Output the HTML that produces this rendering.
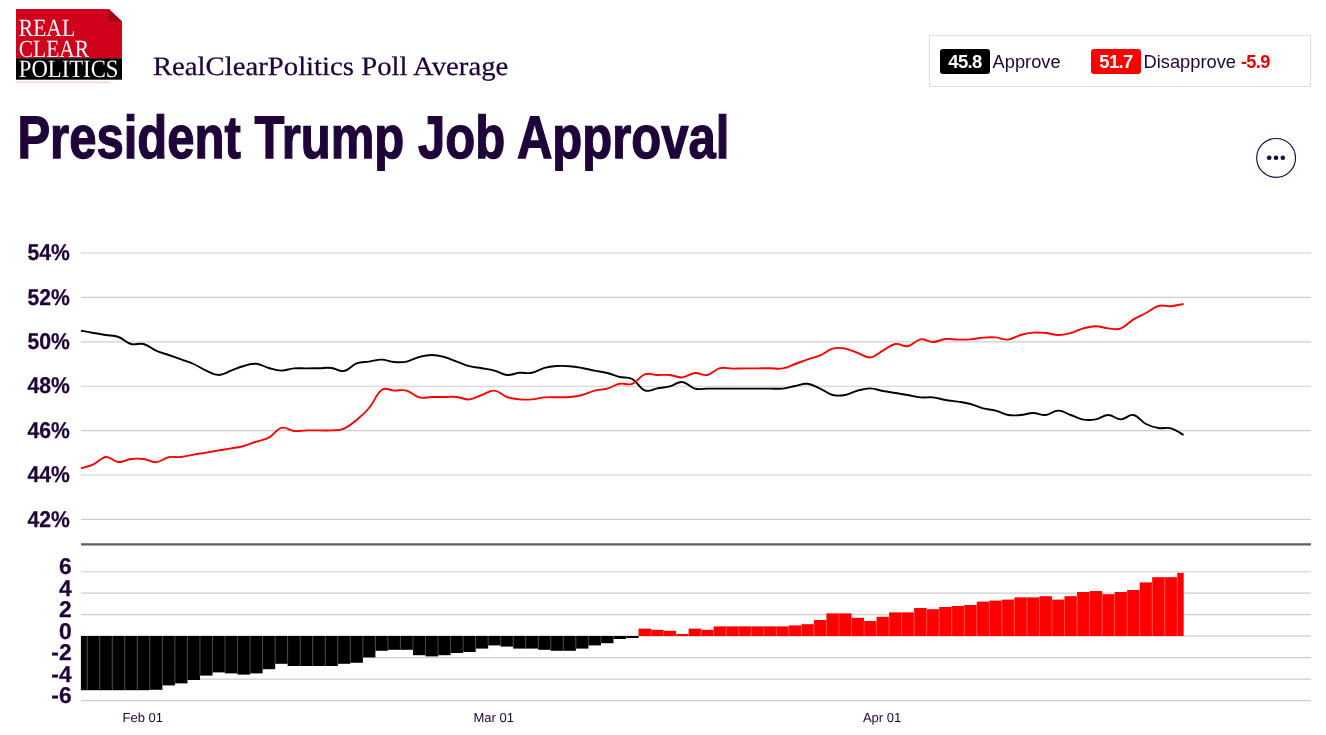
<!DOCTYPE html>
<html lang="en"><head><meta charset="utf-8"><title>President Trump Job Approval</title>
<style>
html,body{margin:0;padding:0;background:#fff;}
body{width:1326px;height:735px;position:relative;overflow:hidden;font-family:"Liberation Sans",Arial,sans-serif;color:#1f0439;}
svg text{font-family:"Liberation Sans",Arial,sans-serif;text-rendering:geometricPrecision;}
svg text.serif{font-family:"Liberation Serif","Times New Roman",serif;}
.abs{position:absolute;}
#legend{left:929px;top:35px;width:380px;height:50px;border:1px solid #ddd;}
.tag{position:absolute;top:13px;height:25px;width:50px;border-radius:3px;color:#fff;font-weight:bold;font-size:18.5px;line-height:25px;text-align:center;letter-spacing:-0.6px;}
.lbl{position:absolute;top:13.3px;font-size:18.25px;line-height:25px;color:#1f0439;white-space:nowrap;}
#menu{left:1255.8px;top:137.5px;width:40px;height:40px;border:1.4px solid #1f0439;border-radius:50%;box-sizing:border-box;}
#menu i{position:absolute;top:16.8px;width:4.6px;height:4.6px;border-radius:50%;background:#1f0439;}
</style></head><body>
<svg width="1326" height="735" viewBox="0 0 1326 735" style="position:absolute;left:0;top:0">
<defs><clipPath id="plot"><rect x="80.9" y="230" width="1102.8" height="480"/></clipPath></defs>

<rect x="16" y="9" width="106" height="49.2" fill="#d0021b"/>
<rect x="16" y="58.2" width="106" height="21.5" fill="#000"/>
<polygon points="108.8,9 122,9 122,21.5" fill="#fff"/>
<polygon points="108.8,9 108.8,21.5 122,21.5" fill="#a60014"/>
<line x1="16" x2="109.7" y1="82.3" y2="82.3" stroke="#f5b0b0" stroke-width="0.8"/>
<text class="serif" x="18.8" y="36" font-size="24.7" fill="#fff" textLength="56.3" lengthAdjust="spacingAndGlyphs">REAL</text>
<text class="serif" x="18.8" y="56.5" font-size="24.7" fill="#fff" textLength="70.2" lengthAdjust="spacingAndGlyphs">CLEAR</text>
<text class="serif" x="18.8" y="77.3" font-size="25" fill="#fff" textLength="99.6" lengthAdjust="spacingAndGlyphs">POLITICS</text>
<text class="serif" x="152.9" y="75" font-size="26.5" fill="#1f0439" stroke="#1f0439" stroke-width="0.25" textLength="355.4" lengthAdjust="spacingAndGlyphs">RealClearPolitics Poll Average</text>
<text x="17.4" y="158.4" font-size="60" font-weight="bold" fill="#1f0439" stroke="#1f0439" stroke-width="1.3" textLength="712" lengthAdjust="spacingAndGlyphs">President Trump Job Approval</text>

<line x1="81" x2="1311" y1="253.00" y2="253.00" stroke="#cecece" stroke-width="1.15"/>
<text x="27.5" y="260.20" font-size="22.8" font-weight="bold" fill="#1f0439" stroke="#1f0439" stroke-width="0.25" textLength="42.4" lengthAdjust="spacingAndGlyphs">54%</text>
<line x1="81" x2="1311" y1="297.40" y2="297.40" stroke="#cecece" stroke-width="1.15"/>
<text x="27.5" y="304.60" font-size="22.8" font-weight="bold" fill="#1f0439" stroke="#1f0439" stroke-width="0.25" textLength="42.4" lengthAdjust="spacingAndGlyphs">52%</text>
<line x1="81" x2="1311" y1="341.80" y2="341.80" stroke="#cecece" stroke-width="1.15"/>
<text x="27.5" y="349.00" font-size="22.8" font-weight="bold" fill="#1f0439" stroke="#1f0439" stroke-width="0.25" textLength="42.4" lengthAdjust="spacingAndGlyphs">50%</text>
<line x1="81" x2="1311" y1="386.20" y2="386.20" stroke="#cecece" stroke-width="1.15"/>
<text x="27.5" y="393.40" font-size="22.8" font-weight="bold" fill="#1f0439" stroke="#1f0439" stroke-width="0.25" textLength="42.4" lengthAdjust="spacingAndGlyphs">48%</text>
<line x1="81" x2="1311" y1="430.60" y2="430.60" stroke="#cecece" stroke-width="1.15"/>
<text x="27.5" y="437.80" font-size="22.8" font-weight="bold" fill="#1f0439" stroke="#1f0439" stroke-width="0.25" textLength="42.4" lengthAdjust="spacingAndGlyphs">46%</text>
<line x1="81" x2="1311" y1="475.00" y2="475.00" stroke="#cecece" stroke-width="1.15"/>
<text x="27.5" y="482.20" font-size="22.8" font-weight="bold" fill="#1f0439" stroke="#1f0439" stroke-width="0.25" textLength="42.4" lengthAdjust="spacingAndGlyphs">44%</text>
<line x1="81" x2="1311" y1="519.40" y2="519.40" stroke="#cecece" stroke-width="1.15"/>
<text x="27.5" y="526.60" font-size="22.8" font-weight="bold" fill="#1f0439" stroke="#1f0439" stroke-width="0.25" textLength="42.4" lengthAdjust="spacingAndGlyphs">42%</text>
<line x1="81" x2="1311" y1="571.71" y2="571.71" stroke="#cecece" stroke-width="1.15"/>
<text x="71.6" y="574.21" font-size="22.8" font-weight="bold" fill="#1f0439" stroke="#1f0439" stroke-width="0.25" text-anchor="end">6</text>
<line x1="81" x2="1311" y1="593.19" y2="593.19" stroke="#cecece" stroke-width="1.15"/>
<text x="71.6" y="595.69" font-size="22.8" font-weight="bold" fill="#1f0439" stroke="#1f0439" stroke-width="0.25" text-anchor="end">4</text>
<line x1="81" x2="1311" y1="614.67" y2="614.67" stroke="#cecece" stroke-width="1.15"/>
<text x="71.6" y="617.17" font-size="22.8" font-weight="bold" fill="#1f0439" stroke="#1f0439" stroke-width="0.25" text-anchor="end">2</text>
<line x1="81" x2="1311" y1="636.15" y2="636.15" stroke="#cecece" stroke-width="1.15"/>
<text x="71.6" y="638.65" font-size="22.8" font-weight="bold" fill="#1f0439" stroke="#1f0439" stroke-width="0.25" text-anchor="end">0</text>
<line x1="81" x2="1311" y1="657.63" y2="657.63" stroke="#cecece" stroke-width="1.15"/>
<text x="71.6" y="660.13" font-size="22.8" font-weight="bold" fill="#1f0439" stroke="#1f0439" stroke-width="0.25" text-anchor="end">-2</text>
<line x1="81" x2="1311" y1="679.11" y2="679.11" stroke="#cecece" stroke-width="1.15"/>
<text x="71.6" y="681.61" font-size="22.8" font-weight="bold" fill="#1f0439" stroke="#1f0439" stroke-width="0.25" text-anchor="end">-4</text>
<line x1="81" x2="1311" y1="700.59" y2="700.59" stroke="#cecece" stroke-width="1.15"/>
<text x="71.6" y="703.09" font-size="22.8" font-weight="bold" fill="#1f0439" stroke="#1f0439" stroke-width="0.25" text-anchor="end">-6</text>
<line x1="81" x2="1311" y1="544.45" y2="544.45" stroke="#5c5c5c" stroke-width="2.2"/>
<g clip-path="url(#plot)">
<rect x="74.64" y="636.00" width="12.58" height="54.20" fill="#000"/>
<rect x="87.17" y="636.00" width="12.58" height="54.20" fill="#000"/>
<rect x="99.70" y="636.00" width="12.58" height="54.20" fill="#000"/>
<rect x="112.23" y="636.00" width="12.58" height="54.20" fill="#000"/>
<rect x="124.76" y="636.00" width="12.58" height="54.20" fill="#000"/>
<rect x="137.29" y="636.00" width="12.58" height="54.20" fill="#000"/>
<rect x="149.81" y="636.00" width="12.58" height="53.80" fill="#000"/>
<rect x="162.35" y="636.00" width="12.58" height="49.40" fill="#000"/>
<rect x="174.88" y="636.00" width="12.58" height="47.40" fill="#000"/>
<rect x="187.41" y="636.00" width="12.58" height="44.00" fill="#000"/>
<rect x="199.94" y="636.00" width="12.58" height="39.60" fill="#000"/>
<rect x="212.47" y="636.00" width="12.58" height="36.40" fill="#000"/>
<rect x="225.00" y="636.00" width="12.58" height="37.40" fill="#000"/>
<rect x="237.53" y="636.00" width="12.58" height="38.60" fill="#000"/>
<rect x="250.06" y="636.00" width="12.58" height="37.40" fill="#000"/>
<rect x="262.59" y="636.00" width="12.58" height="33.20" fill="#000"/>
<rect x="275.12" y="636.00" width="12.58" height="27.80" fill="#000"/>
<rect x="287.64" y="636.00" width="12.58" height="30.00" fill="#000"/>
<rect x="300.18" y="636.00" width="12.58" height="30.00" fill="#000"/>
<rect x="312.71" y="636.00" width="12.58" height="30.00" fill="#000"/>
<rect x="325.24" y="636.00" width="12.58" height="30.00" fill="#000"/>
<rect x="337.76" y="636.00" width="12.58" height="27.80" fill="#000"/>
<rect x="350.29" y="636.00" width="12.58" height="26.80" fill="#000"/>
<rect x="362.83" y="636.00" width="12.58" height="21.40" fill="#000"/>
<rect x="375.36" y="636.00" width="12.58" height="14.80" fill="#000"/>
<rect x="387.88" y="636.00" width="12.58" height="13.80" fill="#000"/>
<rect x="400.41" y="636.00" width="12.58" height="13.80" fill="#000"/>
<rect x="412.95" y="636.00" width="12.58" height="19.20" fill="#000"/>
<rect x="425.48" y="636.00" width="12.58" height="20.40" fill="#000"/>
<rect x="438.00" y="636.00" width="12.58" height="19.20" fill="#000"/>
<rect x="450.53" y="636.00" width="12.58" height="17.00" fill="#000"/>
<rect x="463.07" y="636.00" width="12.58" height="16.00" fill="#000"/>
<rect x="475.60" y="636.00" width="12.58" height="12.60" fill="#000"/>
<rect x="488.12" y="636.00" width="12.58" height="9.40" fill="#000"/>
<rect x="500.65" y="636.00" width="12.58" height="10.60" fill="#000"/>
<rect x="513.18" y="636.00" width="12.58" height="12.60" fill="#000"/>
<rect x="525.72" y="636.00" width="12.58" height="12.60" fill="#000"/>
<rect x="538.25" y="636.00" width="12.58" height="13.80" fill="#000"/>
<rect x="550.77" y="636.00" width="12.58" height="14.80" fill="#000"/>
<rect x="563.30" y="636.00" width="12.58" height="14.80" fill="#000"/>
<rect x="575.84" y="636.00" width="12.58" height="12.60" fill="#000"/>
<rect x="588.37" y="636.00" width="12.58" height="9.40" fill="#000"/>
<rect x="600.89" y="636.00" width="12.58" height="7.20" fill="#000"/>
<rect x="613.42" y="636.00" width="12.58" height="3.00" fill="#000"/>
<rect x="625.95" y="636.00" width="12.58" height="2.00" fill="#000"/>
<rect x="638.49" y="628.60" width="12.58" height="7.40" fill="#fe0000"/>
<rect x="651.01" y="629.80" width="12.58" height="6.20" fill="#fe0000"/>
<rect x="663.54" y="630.80" width="12.58" height="5.20" fill="#fe0000"/>
<rect x="676.07" y="634.00" width="12.58" height="2.00" fill="#fe0000"/>
<rect x="688.60" y="628.60" width="12.58" height="7.40" fill="#fe0000"/>
<rect x="701.13" y="629.80" width="12.58" height="6.20" fill="#fe0000"/>
<rect x="713.66" y="626.40" width="12.58" height="9.60" fill="#fe0000"/>
<rect x="726.19" y="626.40" width="12.58" height="9.60" fill="#fe0000"/>
<rect x="738.72" y="626.40" width="12.58" height="9.60" fill="#fe0000"/>
<rect x="751.25" y="626.40" width="12.58" height="9.60" fill="#fe0000"/>
<rect x="763.78" y="626.40" width="12.58" height="9.60" fill="#fe0000"/>
<rect x="776.31" y="626.40" width="12.58" height="9.60" fill="#fe0000"/>
<rect x="788.84" y="625.40" width="12.58" height="10.60" fill="#fe0000"/>
<rect x="801.38" y="624.20" width="12.58" height="11.80" fill="#fe0000"/>
<rect x="813.90" y="620.00" width="12.58" height="16.00" fill="#fe0000"/>
<rect x="826.43" y="613.40" width="12.58" height="22.60" fill="#fe0000"/>
<rect x="838.96" y="613.40" width="12.58" height="22.60" fill="#fe0000"/>
<rect x="851.50" y="617.80" width="12.58" height="18.20" fill="#fe0000"/>
<rect x="864.02" y="621.00" width="12.58" height="15.00" fill="#fe0000"/>
<rect x="876.55" y="616.80" width="12.58" height="19.20" fill="#fe0000"/>
<rect x="889.08" y="612.40" width="12.58" height="23.60" fill="#fe0000"/>
<rect x="901.61" y="612.40" width="12.58" height="23.60" fill="#fe0000"/>
<rect x="914.14" y="608.00" width="12.58" height="28.00" fill="#fe0000"/>
<rect x="926.67" y="609.20" width="12.58" height="26.80" fill="#fe0000"/>
<rect x="939.20" y="607.00" width="12.58" height="29.00" fill="#fe0000"/>
<rect x="951.73" y="606.00" width="12.58" height="30.00" fill="#fe0000"/>
<rect x="964.26" y="605.00" width="12.58" height="31.00" fill="#fe0000"/>
<rect x="976.79" y="601.60" width="12.58" height="34.40" fill="#fe0000"/>
<rect x="989.32" y="600.60" width="12.58" height="35.40" fill="#fe0000"/>
<rect x="1001.85" y="599.60" width="12.58" height="36.40" fill="#fe0000"/>
<rect x="1014.38" y="597.40" width="12.58" height="38.60" fill="#fe0000"/>
<rect x="1026.91" y="597.40" width="12.58" height="38.60" fill="#fe0000"/>
<rect x="1039.44" y="596.20" width="12.58" height="39.80" fill="#fe0000"/>
<rect x="1051.97" y="599.60" width="12.58" height="36.40" fill="#fe0000"/>
<rect x="1064.50" y="596.20" width="12.58" height="39.80" fill="#fe0000"/>
<rect x="1077.03" y="592.00" width="12.58" height="44.00" fill="#fe0000"/>
<rect x="1089.56" y="591.00" width="12.58" height="45.00" fill="#fe0000"/>
<rect x="1102.10" y="594.20" width="12.58" height="41.80" fill="#fe0000"/>
<rect x="1114.62" y="592.00" width="12.58" height="44.00" fill="#fe0000"/>
<rect x="1127.15" y="590.00" width="12.58" height="46.00" fill="#fe0000"/>
<rect x="1139.68" y="582.40" width="12.58" height="53.60" fill="#fe0000"/>
<rect x="1152.21" y="577.20" width="12.58" height="58.80" fill="#fe0000"/>
<rect x="1164.74" y="577.20" width="12.58" height="58.80" fill="#fe0000"/>
<rect x="1177.27" y="572.80" width="12.58" height="63.20" fill="#fe0000"/>
<line x1="87.17" x2="87.17" y1="636.00" y2="690.20" stroke="#474747" stroke-width="1"/>
<line x1="99.70" x2="99.70" y1="636.00" y2="690.20" stroke="#474747" stroke-width="1"/>
<line x1="112.23" x2="112.23" y1="636.00" y2="690.20" stroke="#474747" stroke-width="1"/>
<line x1="124.76" x2="124.76" y1="636.00" y2="690.20" stroke="#474747" stroke-width="1"/>
<line x1="137.28" x2="137.28" y1="636.00" y2="690.20" stroke="#474747" stroke-width="1"/>
<line x1="149.81" x2="149.81" y1="636.00" y2="689.80" stroke="#474747" stroke-width="1"/>
<line x1="162.34" x2="162.34" y1="636.00" y2="685.40" stroke="#474747" stroke-width="1"/>
<line x1="174.88" x2="174.88" y1="636.00" y2="683.40" stroke="#474747" stroke-width="1"/>
<line x1="187.40" x2="187.40" y1="636.00" y2="680.00" stroke="#474747" stroke-width="1"/>
<line x1="199.94" x2="199.94" y1="636.00" y2="675.60" stroke="#474747" stroke-width="1"/>
<line x1="212.46" x2="212.46" y1="636.00" y2="672.40" stroke="#474747" stroke-width="1"/>
<line x1="224.99" x2="224.99" y1="636.00" y2="672.40" stroke="#474747" stroke-width="1"/>
<line x1="237.52" x2="237.52" y1="636.00" y2="673.40" stroke="#474747" stroke-width="1"/>
<line x1="250.05" x2="250.05" y1="636.00" y2="673.40" stroke="#474747" stroke-width="1"/>
<line x1="262.58" x2="262.58" y1="636.00" y2="669.20" stroke="#474747" stroke-width="1"/>
<line x1="275.12" x2="275.12" y1="636.00" y2="663.80" stroke="#474747" stroke-width="1"/>
<line x1="287.64" x2="287.64" y1="636.00" y2="663.80" stroke="#474747" stroke-width="1"/>
<line x1="300.17" x2="300.17" y1="636.00" y2="666.00" stroke="#474747" stroke-width="1"/>
<line x1="312.70" x2="312.70" y1="636.00" y2="666.00" stroke="#474747" stroke-width="1"/>
<line x1="325.24" x2="325.24" y1="636.00" y2="666.00" stroke="#474747" stroke-width="1"/>
<line x1="337.76" x2="337.76" y1="636.00" y2="663.80" stroke="#474747" stroke-width="1"/>
<line x1="350.29" x2="350.29" y1="636.00" y2="662.80" stroke="#474747" stroke-width="1"/>
<line x1="362.82" x2="362.82" y1="636.00" y2="657.40" stroke="#474747" stroke-width="1"/>
<line x1="375.36" x2="375.36" y1="636.00" y2="650.80" stroke="#474747" stroke-width="1"/>
<line x1="387.88" x2="387.88" y1="636.00" y2="649.80" stroke="#474747" stroke-width="1"/>
<line x1="400.41" x2="400.41" y1="636.00" y2="649.80" stroke="#474747" stroke-width="1"/>
<line x1="412.94" x2="412.94" y1="636.00" y2="649.80" stroke="#474747" stroke-width="1"/>
<line x1="425.48" x2="425.48" y1="636.00" y2="655.20" stroke="#474747" stroke-width="1"/>
<line x1="438.00" x2="438.00" y1="636.00" y2="655.20" stroke="#474747" stroke-width="1"/>
<line x1="450.53" x2="450.53" y1="636.00" y2="653.00" stroke="#474747" stroke-width="1"/>
<line x1="463.06" x2="463.06" y1="636.00" y2="652.00" stroke="#474747" stroke-width="1"/>
<line x1="475.60" x2="475.60" y1="636.00" y2="648.60" stroke="#474747" stroke-width="1"/>
<line x1="488.12" x2="488.12" y1="636.00" y2="645.40" stroke="#474747" stroke-width="1"/>
<line x1="500.65" x2="500.65" y1="636.00" y2="645.40" stroke="#474747" stroke-width="1"/>
<line x1="513.18" x2="513.18" y1="636.00" y2="646.60" stroke="#474747" stroke-width="1"/>
<line x1="525.71" x2="525.71" y1="636.00" y2="648.60" stroke="#474747" stroke-width="1"/>
<line x1="538.25" x2="538.25" y1="636.00" y2="648.60" stroke="#474747" stroke-width="1"/>
<line x1="550.77" x2="550.77" y1="636.00" y2="649.80" stroke="#474747" stroke-width="1"/>
<line x1="563.30" x2="563.30" y1="636.00" y2="650.80" stroke="#474747" stroke-width="1"/>
<line x1="575.83" x2="575.83" y1="636.00" y2="648.60" stroke="#474747" stroke-width="1"/>
<line x1="588.37" x2="588.37" y1="636.00" y2="645.40" stroke="#474747" stroke-width="1"/>
<line x1="600.89" x2="600.89" y1="636.00" y2="643.20" stroke="#474747" stroke-width="1"/>
<line x1="613.42" x2="613.42" y1="636.00" y2="639.00" stroke="#474747" stroke-width="1"/>
<line x1="625.95" x2="625.95" y1="636.00" y2="638.00" stroke="#474747" stroke-width="1"/>
<line x1="651.01" x2="651.01" y1="636.00" y2="629.80" stroke="#ff4a4a" stroke-width="1"/>
<line x1="663.54" x2="663.54" y1="636.00" y2="630.80" stroke="#ff4a4a" stroke-width="1"/>
<line x1="676.07" x2="676.07" y1="636.00" y2="634.00" stroke="#ff4a4a" stroke-width="1"/>
<line x1="688.60" x2="688.60" y1="636.00" y2="634.00" stroke="#ff4a4a" stroke-width="1"/>
<line x1="701.13" x2="701.13" y1="636.00" y2="629.80" stroke="#ff4a4a" stroke-width="1"/>
<line x1="713.66" x2="713.66" y1="636.00" y2="629.80" stroke="#ff4a4a" stroke-width="1"/>
<line x1="726.19" x2="726.19" y1="636.00" y2="626.40" stroke="#ff4a4a" stroke-width="1"/>
<line x1="738.72" x2="738.72" y1="636.00" y2="626.40" stroke="#ff4a4a" stroke-width="1"/>
<line x1="751.25" x2="751.25" y1="636.00" y2="626.40" stroke="#ff4a4a" stroke-width="1"/>
<line x1="763.78" x2="763.78" y1="636.00" y2="626.40" stroke="#ff4a4a" stroke-width="1"/>
<line x1="776.31" x2="776.31" y1="636.00" y2="626.40" stroke="#ff4a4a" stroke-width="1"/>
<line x1="788.84" x2="788.84" y1="636.00" y2="626.40" stroke="#ff4a4a" stroke-width="1"/>
<line x1="801.37" x2="801.37" y1="636.00" y2="625.40" stroke="#ff4a4a" stroke-width="1"/>
<line x1="813.90" x2="813.90" y1="636.00" y2="624.20" stroke="#ff4a4a" stroke-width="1"/>
<line x1="826.43" x2="826.43" y1="636.00" y2="620.00" stroke="#ff4a4a" stroke-width="1"/>
<line x1="838.96" x2="838.96" y1="636.00" y2="613.40" stroke="#ff4a4a" stroke-width="1"/>
<line x1="851.49" x2="851.49" y1="636.00" y2="617.80" stroke="#ff4a4a" stroke-width="1"/>
<line x1="864.02" x2="864.02" y1="636.00" y2="621.00" stroke="#ff4a4a" stroke-width="1"/>
<line x1="876.55" x2="876.55" y1="636.00" y2="621.00" stroke="#ff4a4a" stroke-width="1"/>
<line x1="889.08" x2="889.08" y1="636.00" y2="616.80" stroke="#ff4a4a" stroke-width="1"/>
<line x1="901.61" x2="901.61" y1="636.00" y2="612.40" stroke="#ff4a4a" stroke-width="1"/>
<line x1="914.14" x2="914.14" y1="636.00" y2="612.40" stroke="#ff4a4a" stroke-width="1"/>
<line x1="926.67" x2="926.67" y1="636.00" y2="609.20" stroke="#ff4a4a" stroke-width="1"/>
<line x1="939.20" x2="939.20" y1="636.00" y2="609.20" stroke="#ff4a4a" stroke-width="1"/>
<line x1="951.73" x2="951.73" y1="636.00" y2="607.00" stroke="#ff4a4a" stroke-width="1"/>
<line x1="964.26" x2="964.26" y1="636.00" y2="606.00" stroke="#ff4a4a" stroke-width="1"/>
<line x1="976.79" x2="976.79" y1="636.00" y2="605.00" stroke="#ff4a4a" stroke-width="1"/>
<line x1="989.32" x2="989.32" y1="636.00" y2="601.60" stroke="#ff4a4a" stroke-width="1"/>
<line x1="1001.85" x2="1001.85" y1="636.00" y2="600.60" stroke="#ff4a4a" stroke-width="1"/>
<line x1="1014.38" x2="1014.38" y1="636.00" y2="599.60" stroke="#ff4a4a" stroke-width="1"/>
<line x1="1026.91" x2="1026.91" y1="636.00" y2="597.40" stroke="#ff4a4a" stroke-width="1"/>
<line x1="1039.45" x2="1039.45" y1="636.00" y2="597.40" stroke="#ff4a4a" stroke-width="1"/>
<line x1="1051.98" x2="1051.98" y1="636.00" y2="599.60" stroke="#ff4a4a" stroke-width="1"/>
<line x1="1064.51" x2="1064.51" y1="636.00" y2="599.60" stroke="#ff4a4a" stroke-width="1"/>
<line x1="1077.04" x2="1077.04" y1="636.00" y2="596.20" stroke="#ff4a4a" stroke-width="1"/>
<line x1="1089.57" x2="1089.57" y1="636.00" y2="592.00" stroke="#ff4a4a" stroke-width="1"/>
<line x1="1102.10" x2="1102.10" y1="636.00" y2="594.20" stroke="#ff4a4a" stroke-width="1"/>
<line x1="1114.63" x2="1114.63" y1="636.00" y2="594.20" stroke="#ff4a4a" stroke-width="1"/>
<line x1="1127.16" x2="1127.16" y1="636.00" y2="592.00" stroke="#ff4a4a" stroke-width="1"/>
<line x1="1139.69" x2="1139.69" y1="636.00" y2="590.00" stroke="#ff4a4a" stroke-width="1"/>
<line x1="1152.22" x2="1152.22" y1="636.00" y2="582.40" stroke="#ff4a4a" stroke-width="1"/>
<line x1="1164.75" x2="1164.75" y1="636.00" y2="577.20" stroke="#ff4a4a" stroke-width="1"/>
<line x1="1177.28" x2="1177.28" y1="636.00" y2="577.20" stroke="#ff4a4a" stroke-width="1"/>
</g>
<path d="M80.90 330.60C83.41 331.08 88.42 332.12 93.43 333.00C98.44 333.88 100.95 334.20 105.96 335.00C110.97 335.80 113.48 335.20 118.49 337.00C123.50 338.80 126.01 342.60 131.02 344.00C136.03 345.40 138.54 342.68 143.55 344.00C148.56 345.32 151.07 348.40 156.08 350.60C161.09 352.80 163.60 353.24 168.61 355.00C173.62 356.76 176.13 357.60 181.14 359.40C186.15 361.20 188.66 361.76 193.67 364.00C198.68 366.24 201.19 368.40 206.20 370.60C211.21 372.80 213.72 375.00 218.73 375.00C223.74 375.00 226.25 372.40 231.26 370.60C236.27 368.80 238.78 367.36 243.79 366.00C248.80 364.64 251.31 363.40 256.32 363.80C261.33 364.20 263.84 366.64 268.85 368.00C273.86 369.36 276.37 370.52 281.38 370.60C286.39 370.68 288.90 368.84 293.91 368.40C298.92 367.96 301.43 368.44 306.44 368.40C311.45 368.36 313.96 368.28 318.97 368.20C323.98 368.12 326.49 367.44 331.50 368.00C336.51 368.56 339.02 371.92 344.03 371.00C349.04 370.08 351.55 365.28 356.56 363.40C361.57 361.52 364.08 362.36 369.09 361.60C374.10 360.84 376.61 359.52 381.62 359.60C386.63 359.68 389.14 361.60 394.15 362.00C399.16 362.40 401.67 362.60 406.68 361.60C411.69 360.60 414.20 358.32 419.21 357.00C424.22 355.68 426.73 355.00 431.74 355.00C436.75 355.00 439.26 355.68 444.27 357.00C449.28 358.32 451.79 359.76 456.80 361.60C461.81 363.44 464.32 364.88 469.33 366.20C474.34 367.52 476.85 367.32 481.86 368.20C486.87 369.08 489.38 369.24 494.39 370.60C499.40 371.96 501.91 374.56 506.92 375.00C511.93 375.44 514.44 373.24 519.45 372.80C524.46 372.36 526.97 373.80 531.98 372.80C536.99 371.80 539.50 369.16 544.51 367.80C549.52 366.44 552.03 366.32 557.04 366.00C562.05 365.68 564.56 365.80 569.57 366.20C574.58 366.60 577.09 367.12 582.10 368.00C587.11 368.88 589.62 369.60 594.63 370.60C599.64 371.60 602.15 371.72 607.16 373.00C612.17 374.28 614.68 375.80 619.69 377.00C624.70 378.20 627.21 376.32 632.22 379.00C637.23 381.68 639.74 388.52 644.75 390.40C649.76 392.28 652.27 389.20 657.28 388.40C662.29 387.60 664.80 387.68 669.81 386.40C674.82 385.12 677.33 381.56 682.34 382.00C687.35 382.44 689.86 387.28 694.87 388.60C699.88 389.92 702.39 388.60 707.40 388.60C712.41 388.60 714.92 388.60 719.93 388.60C724.94 388.60 727.45 388.60 732.46 388.60C737.47 388.60 739.98 388.60 744.99 388.60C750.00 388.60 752.51 388.60 757.52 388.60C762.53 388.60 765.04 388.60 770.05 388.60C775.06 388.60 777.57 389.12 782.58 388.60C787.59 388.08 790.10 386.96 795.11 386.00C800.12 385.04 802.63 383.28 807.64 383.80C812.65 384.32 815.16 386.36 820.17 388.60C825.18 390.84 827.69 393.72 832.70 395.00C837.71 396.28 840.22 395.88 845.23 395.00C850.24 394.12 852.75 391.92 857.76 390.60C862.77 389.28 865.28 388.32 870.29 388.40C875.30 388.48 877.81 390.08 882.82 391.00C887.83 391.92 890.34 392.20 895.35 393.00C900.36 393.80 902.87 394.12 907.88 395.00C912.89 395.88 915.40 396.92 920.41 397.40C925.42 397.88 927.93 396.88 932.94 397.40C937.95 397.92 940.46 399.16 945.47 400.00C950.48 400.84 952.99 400.80 958.00 401.60C963.01 402.40 965.52 402.64 970.53 404.00C975.54 405.36 978.05 407.08 983.06 408.40C988.07 409.72 990.58 409.28 995.59 410.60C1000.60 411.92 1003.11 414.12 1008.12 415.00C1013.13 415.88 1015.64 415.40 1020.65 415.00C1025.66 414.60 1028.17 413.00 1033.18 413.00C1038.19 413.00 1040.70 415.48 1045.71 415.00C1050.72 414.52 1053.23 410.60 1058.24 410.60C1063.25 410.60 1065.76 413.20 1070.77 415.00C1075.78 416.80 1078.29 418.72 1083.30 419.60C1088.31 420.48 1090.82 420.32 1095.83 419.40C1100.84 418.48 1103.35 415.00 1108.36 415.00C1113.37 415.00 1115.88 419.40 1120.89 419.40C1125.90 419.40 1128.41 414.08 1133.42 415.00C1138.43 415.92 1140.94 421.40 1145.95 424.00C1150.96 426.60 1153.47 427.12 1158.48 428.00C1163.49 428.88 1166.00 427.00 1171.01 428.40C1176.02 429.80 1181.03 433.68 1183.54 435.00" fill="none" stroke="#000" stroke-width="1.9" stroke-linejoin="round"/>
<path d="M80.90 468.40C83.41 467.60 88.42 466.68 93.43 464.40C98.44 462.12 100.95 457.48 105.96 457.00C110.97 456.52 113.48 461.60 118.49 462.00C123.50 462.40 126.01 459.60 131.02 459.00C136.03 458.40 138.54 458.36 143.55 459.00C148.56 459.64 151.07 462.56 156.08 462.20C161.09 461.84 163.60 458.24 168.61 457.20C173.62 456.16 176.13 457.52 181.14 457.00C186.15 456.48 188.66 455.48 193.67 454.60C198.68 453.72 201.19 453.44 206.20 452.60C211.21 451.76 213.72 451.24 218.73 450.40C223.74 449.56 226.25 449.28 231.26 448.40C236.27 447.52 238.78 447.36 243.79 446.00C248.80 444.64 251.31 443.28 256.32 441.60C261.33 439.92 263.84 440.36 268.85 437.60C273.86 434.84 276.37 429.12 281.38 427.80C286.39 426.48 288.90 430.48 293.91 431.00C298.92 431.52 301.43 430.52 306.44 430.40C311.45 430.28 313.96 430.40 318.97 430.40C323.98 430.40 326.49 430.76 331.50 430.40C336.51 430.04 339.02 430.68 344.03 428.60C349.04 426.52 351.55 424.12 356.56 420.00C361.57 415.88 364.08 414.00 369.09 408.00C374.10 402.00 376.61 393.48 381.62 390.00C386.63 386.52 389.14 390.48 394.15 390.60C399.16 390.72 401.67 389.24 406.68 390.60C411.69 391.96 414.20 396.12 419.21 397.40C424.22 398.68 426.73 397.08 431.74 397.00C436.75 396.92 439.26 397.00 444.27 397.00C449.28 397.00 451.79 396.52 456.80 397.00C461.81 397.48 464.32 399.80 469.33 399.40C474.34 399.00 476.85 396.76 481.86 395.00C486.87 393.24 489.38 390.20 494.39 390.60C499.40 391.00 501.91 395.24 506.92 397.00C511.93 398.76 514.44 398.92 519.45 399.40C524.46 399.88 526.97 399.80 531.98 399.40C536.99 399.00 539.50 397.84 544.51 397.40C549.52 396.96 552.03 397.28 557.04 397.20C562.05 397.12 564.56 397.44 569.57 397.00C574.58 396.56 577.09 396.28 582.10 395.00C587.11 393.72 589.62 391.88 594.63 390.60C599.64 389.32 602.15 389.96 607.16 388.60C612.17 387.24 614.68 384.76 619.69 383.80C624.70 382.84 627.21 385.68 632.22 383.80C637.23 381.92 639.74 376.16 644.75 374.40C649.76 372.64 652.27 374.88 657.28 375.00C662.29 375.12 664.80 374.52 669.81 375.00C674.82 375.48 677.33 377.80 682.34 377.40C687.35 377.00 689.86 373.48 694.87 373.00C699.88 372.52 702.39 375.96 707.40 375.00C712.41 374.04 714.92 369.48 719.93 368.20C724.94 366.92 727.45 368.56 732.46 368.60C737.47 368.64 739.98 368.44 744.99 368.40C750.00 368.36 752.51 368.44 757.52 368.40C762.53 368.36 765.04 368.20 770.05 368.20C775.06 368.20 777.57 369.24 782.58 368.40C787.59 367.56 790.10 365.80 795.11 364.00C800.12 362.20 802.63 361.12 807.64 359.40C812.65 357.68 815.16 357.56 820.17 355.40C825.18 353.24 827.69 349.96 832.70 348.60C837.71 347.24 840.22 347.72 845.23 348.60C850.24 349.48 852.75 351.24 857.76 353.00C862.77 354.76 865.28 357.88 870.29 357.40C875.30 356.92 877.81 353.28 882.82 350.60C887.83 347.92 890.34 344.88 895.35 344.00C900.36 343.12 902.87 347.12 907.88 346.20C912.89 345.28 915.40 340.24 920.41 339.40C925.42 338.56 927.93 342.08 932.94 342.00C937.95 341.92 940.46 339.48 945.47 339.00C950.48 338.52 952.99 339.52 958.00 339.60C963.01 339.68 965.52 339.80 970.53 339.40C975.54 339.00 978.05 338.00 983.06 337.60C988.07 337.20 990.58 337.00 995.59 337.40C1000.60 337.80 1003.11 340.08 1008.12 339.60C1013.13 339.12 1015.64 336.40 1020.65 335.00C1025.66 333.60 1028.17 333.00 1033.18 332.60C1038.19 332.20 1040.70 332.52 1045.71 333.00C1050.72 333.48 1053.23 335.00 1058.24 335.00C1063.25 335.00 1065.76 334.32 1070.77 333.00C1075.78 331.68 1078.29 329.76 1083.30 328.40C1088.31 327.04 1090.82 326.20 1095.83 326.20C1100.84 326.20 1103.35 327.96 1108.36 328.40C1113.37 328.84 1115.88 330.20 1120.89 328.40C1125.90 326.60 1128.41 322.48 1133.42 319.40C1138.43 316.32 1140.94 315.68 1145.95 313.00C1150.96 310.32 1153.47 307.36 1158.48 306.00C1163.49 304.64 1166.00 306.60 1171.01 306.20C1176.02 305.80 1181.03 304.44 1183.54 304.00" fill="none" stroke="#fe0000" stroke-width="1.9" stroke-linejoin="round"/>
<text x="142.85" y="722" font-size="13" fill="#1f0439" text-anchor="middle">Feb 01</text>
<text x="493.69" y="722" font-size="13" fill="#1f0439" text-anchor="middle">Mar 01</text>
<text x="882.12" y="722" font-size="13" fill="#1f0439" text-anchor="middle">Apr 01</text>
<circle cx="1276.1" cy="157.9" r="19.4" fill="#fff" stroke="#1f0439" stroke-width="1.15"/>
<circle cx="1269.2" cy="157.8" r="2.3" fill="#1f0439"/>
<circle cx="1276.0" cy="157.8" r="2.3" fill="#1f0439"/>
<circle cx="1282.8" cy="157.8" r="2.3" fill="#1f0439"/>
</svg>
<div class="abs" id="legend">
  <div class="tag" style="left:10px;background:#000">45.8</div><div class="lbl" style="left:62.6px">Approve</div>
  <div class="tag" style="left:161px;background:#fe0000">51.7</div><div class="lbl" style="left:213.6px">Disapprove <b style="color:#e60000;letter-spacing:-0.7px">-5.9</b></div>
</div>
</body></html>
